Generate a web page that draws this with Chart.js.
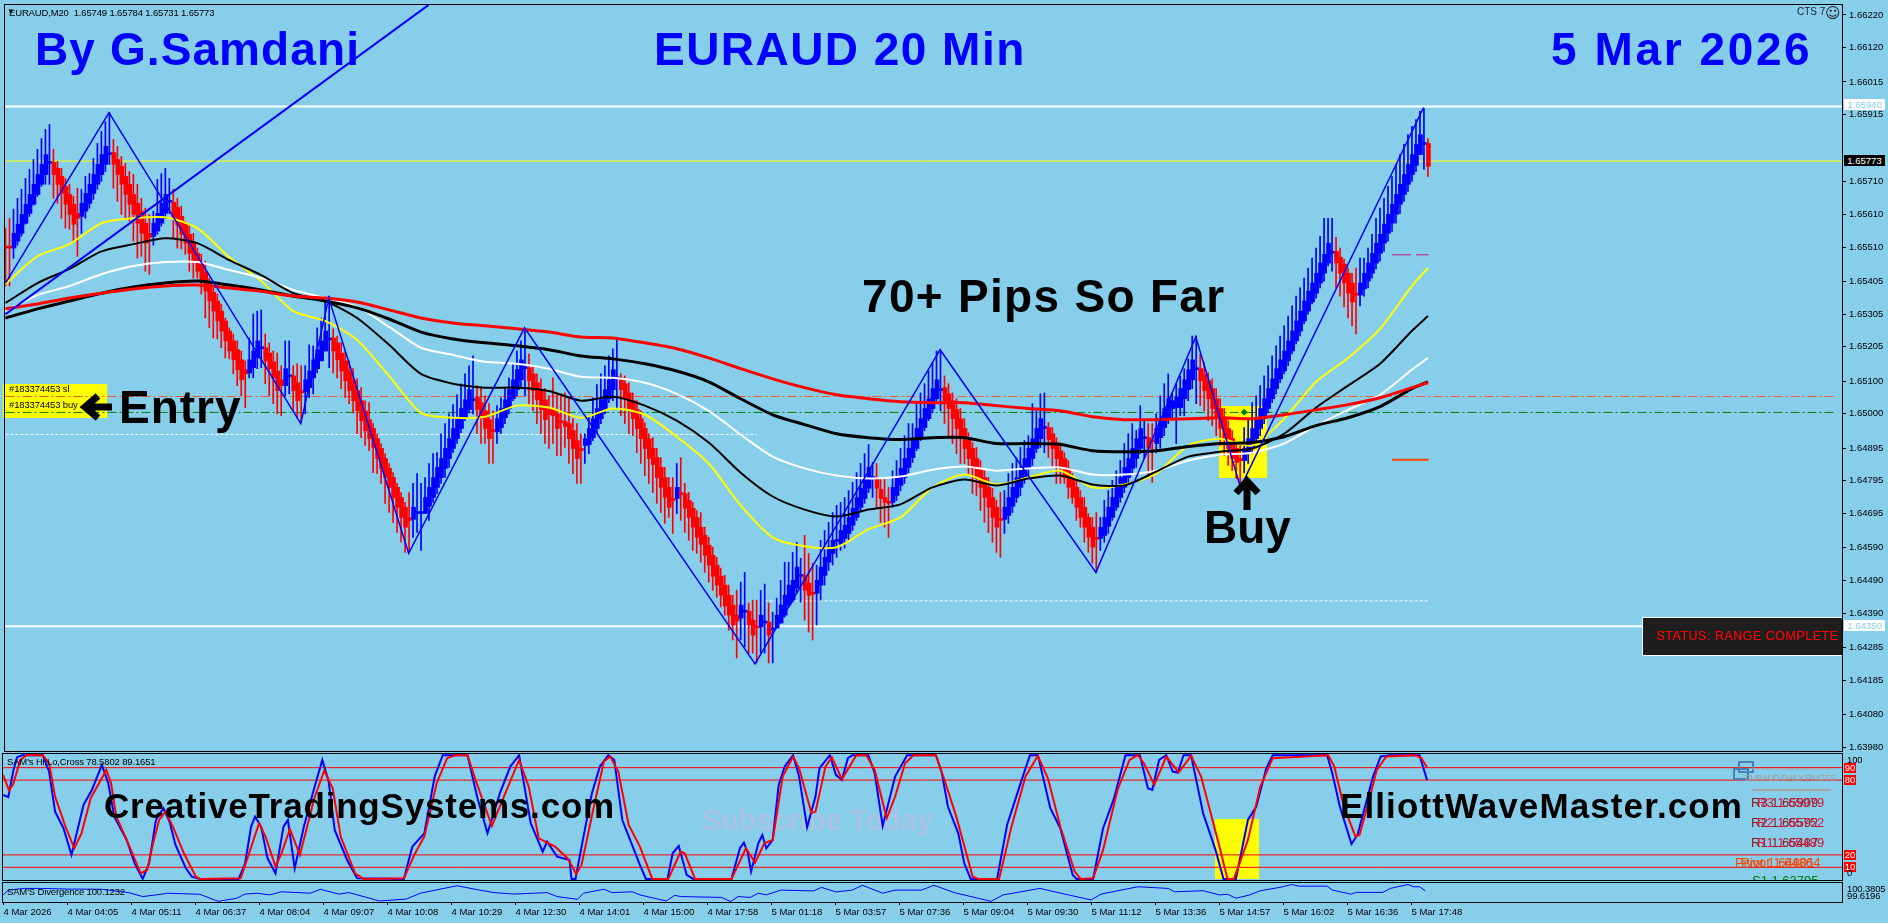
<!DOCTYPE html>
<html>
<head>
<meta charset="utf-8">
<title>EURAUD 20 Min</title>
<script src="https://cdn.jsdelivr.net/npm/chart.js@4"></script>
<style>
  html, body { margin: 0; padding: 0; width: 1888px; height: 923px; overflow: hidden; background: #87ceeb; }
  canvas { position: absolute; left: 0; }
  #priceCanvas { top: 0; }
  #crossCanvas { top: 752px; }
  #divCanvas { top: 881px; }
  .t { position: absolute; white-space: nowrap; font-family: "Liberation Sans", Arial, sans-serif; line-height: 1; }
  .small { font-size: 9.5px; letter-spacing: -0.15px; color: #000; }
  .big { font-size: 46px; font-weight: bold; color: #000; }
  .web { font-size: 35px; font-weight: bold; color: #000; }
  .blue { color: #0000ff; }
  .box { position: absolute; }
  .tag { position: absolute; left: 1844px; width: 41px; height: 11px; font: 9.5px/11px "Liberation Sans", Arial, sans-serif; text-align: center; }
  .lvl { position: absolute; left: 1844px; width: 12px; height: 10px; background: #ff0000; color: #fff; font: 9.5px/10px "Liberation Sans", Arial, sans-serif; text-align: center; }
  .piv { font-size: 13px; }
  svg { position: absolute; left: 0; top: 0; }
</style>
</head>
<body>
<!-- things that sit behind the price lines -->
<div class="box" style="left:3px;top:384px;width:104px;height:34px;background:#ffff00"></div>
<div class="box" style="left:1219px;top:406px;width:48px;height:72px;background:#ffff00"></div>
<div class="box" style="left:1215px;top:819px;width:44px;height:60px;background:#ffff00"></div>
<div class="t" style="left:701px;top:806px;font-size:29px;font-weight:bold;color:#a9c3e3">Subscribe Today</div>

<canvas id="priceCanvas" width="1888" height="756"></canvas>
<canvas id="crossCanvas" width="1888" height="129"></canvas>
<canvas id="divCanvas" width="1888" height="42"></canvas>

<!-- chart text -->
<div class="t small" style="left:7px;top:8px;font-size:8px">▼</div>
<div class="t small" style="left:9px;top:8px">EURAUD,M20 &nbsp;1.65749 1.65784 1.65731 1.65773</div>
<div class="t" style="left:1797px;top:7px;font-size:10px;color:#222">CTS 7</div>
<div class="t" style="left:1825px;top:4px;font:15px 'DejaVu Sans';color:#222">☺</div>
<div class="t big blue" style="left:35px;top:26px;letter-spacing:1.1px">By G.Samdani</div>
<div class="t big blue" style="left:654px;top:26px;letter-spacing:1.46px">EURAUD 20 Min</div>
<div class="t big blue" style="left:1551px;top:26px;letter-spacing:2.6px">5 Mar 2026</div>
<div class="t big" style="left:862px;top:273px;letter-spacing:1.3px">70+ Pips So Far</div>
<div class="t big" style="left:119px;top:384px;letter-spacing:1px">Entry</div>
<div class="t big" style="left:1204px;top:504px">Buy</div>
<div class="t small" style="left:9px;top:384px">#183374453 sl</div>
<div class="t small" style="left:9px;top:400px">#183374453 buy</div>
<svg width="1888" height="923">
  <path d="M112 407H88M98 396L85 407L98 418" fill="none" stroke="#000" stroke-width="7"/>
  <path d="M1247 510V486M1236 493L1247 481L1258 493" fill="none" stroke="#000" stroke-width="7"/>
  <rect x="1739" y="762" width="14" height="10" fill="none" stroke="#4682b4" stroke-width="2"/>
  <rect x="1734" y="769" width="14" height="10" fill="none" stroke="#4682b4" stroke-width="2"/>
  <path d="M1752 769H1831" stroke="#a8a8a8" stroke-width="1"/>
  <path d="M1752 790H1831" stroke="#a8a8a8" stroke-width="2"/>
</svg>

<div class="tag" style="top:99px;background:#fff;color:#87ceeb">1.65940</div>
<div class="tag" style="top:155px;background:#000;color:#fff">1.65773</div>
<div class="tag" style="top:620px;background:#fff;color:#87ceeb">1.64350</div>

<div class="box" style="left:1642px;top:617px;width:199px;height:37px;background:#1e1e1e;border:1px solid #fff;border-right:0"></div>
<div class="t" style="left:1656px;top:630px;font-size:12.5px;color:#ff0000;letter-spacing:.5px">STATUS: RANGE COMPLETE</div>

<div class="t web" style="left:104px;top:788px;letter-spacing:.8px">CreativeTradingSystems.com</div>
<div class="t web" style="left:1340px;top:788px;letter-spacing:1.1px">ElliottWaveMaster.com</div>
<div class="t small" style="left:7px;top:757px">SAM's Hi,Lo,Cross 78.5802 89.1651</div>
<div class="t small" style="left:7px;top:887px">SAM'S Divergence 100.1232</div>

<div class="t piv" style="left:1745px;top:774px;font-size:9px;letter-spacing:-.6px;color:#a09a90">EURAUD DAILY PIVOTS</div>
<div class="t piv" style="left:1751px;top:796px;color:#8b1a1a">R3 1.65909</div>
<div class="t piv" style="left:1757px;top:796px;color:#dc143c">R3 1.65979</div>
<div class="t piv" style="left:1751px;top:816px;color:#8b1a1a">R2 1.65592</div>
<div class="t piv" style="left:1757px;top:816px;color:#dc143c">R2 1.65752</div>
<div class="t piv" style="left:1751px;top:836px;color:#8b1a1a">R1 1.65487</div>
<div class="t piv" style="left:1757px;top:836px;color:#dc143c">R1 1.65489</div>
<div class="t piv" style="left:1735px;top:856px;color:#ff4500">Pivot 1.64801</div>
<div class="t piv" style="left:1741px;top:856px;color:#ff4500">Pivot 1.64864</div>
<div style="position:absolute;left:1700px;top:870px;width:130px;height:10px;overflow:hidden">
  <div class="t piv" style="left:52px;top:4px;color:#008000">S1 1.63795</div>
</div>

<div class="lvl" style="top:763px">90</div>
<div class="lvl" style="top:775px">80</div>
<div class="lvl" style="top:850px">20</div>
<div class="lvl" style="top:862px">10</div>
<div class="t small" style="left:1847px;top:755px">100</div>
<div class="t small" style="left:1847px;top:868px">0</div>
<div class="t small" style="left:1847px;top:884px">100.3805</div>
<div class="t small" style="left:1847px;top:891px">99.6196</div>

<script>
// All candle values are points above 1.60000, so 5773 means 1.65773
const candleOpen = [
5513,5513,5507,5528,5552,5583,5613,5641,5671,5702,
5732,5766,5769,5751,5726,5696,5671,5641,5613,5604,
5620,5644,5674,5702,5732,5763,5793,5799,5778,5757,
5726,5702,5671,5644,5620,5583,5552,5543,5559,5583,
5613,5647,5647,5632,5604,5580,5549,5522,5491,5461,
5433,5403,5372,5345,5314,5284,5253,5223,5196,5165,
5135,5125,5141,5171,5199,5202,5186,5159,5131,5104,
5086,5113,5116,5095,5071,5067,5080,5110,5138,5162,
5192,5226,5232,5217,5186,5162,5131,5101,5071,5040,
5009,4982,4955,4924,4894,4863,4833,4805,4775,4744,
4714,4683,4677,4695,4695,4695,4717,4744,4775,4805,
4833,4863,4894,4924,4955,4985,5013,5040,5052,5034,
5009,4982,4952,4945,4958,4988,5016,5046,5074,5104,
5138,5141,5122,5095,5071,5043,5013,5013,5000,4979,
4976,4970,4949,4918,4894,4903,4906,4927,4955,4985,
5016,5046,5074,5107,5110,5092,5064,5040,5013,4985,
4955,4924,4894,4866,4836,4805,4775,4741,4741,4759,
4756,4735,4711,4683,4653,4628,4598,4567,4537,4503,
4476,4445,4415,4384,4375,4393,4396,4369,4351,4348,
4360,4363,4339,4345,4360,4384,4415,4430,4467,4503,
4506,4482,4454,4451,4476,4506,4546,4573,4610,4601,
4619,4634,4659,4683,4714,4741,4772,4802,4802,4769,
4744,4732,4729,4750,4781,4805,4836,4866,4894,4927,
4958,4985,5016,5046,5071,5080,5061,5040,5013,4985,
4955,4924,4894,4863,4833,4805,4775,4744,4714,4680,
4677,4689,4717,4744,4775,4805,4833,4863,4894,4924,
4955,4958,4939,4912,4887,4863,4833,4805,4775,4744,
4714,4683,4653,4622,4619,4628,4656,4683,4714,4744,
4775,4805,4833,4863,4894,4924,4927,4921,4909,4927,
4958,4988,5016,5019,5019,5046,5074,5104,5135,5138,
5122,5101,5077,5046,5016,4985,4955,4924,4894,4863,
4857,4878,4897,4924,4955,4985,5016,5046,5077,5107,
5131,5162,5192,5223,5253,5284,5314,5342,5369,5400,
5430,5461,5491,5497,5479,5458,5430,5400,5369,5363,
5382,5406,5430,5461,5491,5522,5552,5583,5610,5641,
5671,5702,5732,5760,5793,5824,5827];
const candleClose = [
5507,5507,5552,5580,5610,5641,5671,5702,5732,5763,
5793,5772,5732,5702,5674,5641,5610,5580,5598,5644,
5674,5702,5732,5763,5793,5818,5799,5763,5732,5702,
5671,5641,5610,5583,5552,5522,5540,5583,5613,5644,
5671,5653,5598,5577,5549,5522,5491,5467,5436,5406,
5375,5345,5314,5284,5253,5223,5192,5165,5135,5104,
5122,5165,5192,5223,5205,5162,5138,5110,5071,5086,
5138,5119,5071,5040,5064,5104,5131,5165,5196,5223,
5253,5232,5192,5165,5131,5101,5071,5040,5009,4979,
4948,4924,4897,4863,4833,4805,4775,4744,4714,4683,
4653,4674,4714,4701,4701,4744,4775,4805,4836,4863,
4894,4924,4955,4985,5016,5043,5074,5046,5013,4985,
4955,4924,4945,4985,5016,5043,5074,5104,5135,5165,
5144,5101,5071,5043,5013,4982,4997,4994,4955,4973,
4961,4924,4894,4863,4887,4924,4955,4985,5016,5043,
5074,5104,5135,5113,5074,5046,5016,4985,4955,4924,
4894,4863,4845,4805,4775,4744,4714,4735,4775,4753,
4711,4683,4653,4622,4601,4567,4537,4503,4476,4445,
4412,4384,4354,4366,4415,4399,4354,4323,4345,4384,
4366,4323,4345,4384,4415,4445,4476,4491,4531,4509,
4460,4445,4448,4491,4531,4561,4592,4613,4616,4643,
4659,4683,4711,4744,4772,4802,4836,4808,4772,4741,
4729,4726,4775,4802,4833,4863,4894,4924,4955,4985,
5016,5046,5077,5104,5077,5040,5016,4985,4955,4924,
4894,4863,4833,4802,4775,4744,4714,4683,4653,4674,
4714,4744,4775,4805,4833,4863,4894,4924,4955,4985,
4961,4921,4894,4863,4833,4805,4775,4744,4714,4683,
4653,4622,4592,4616,4653,4683,4714,4744,4775,4805,
4836,4863,4894,4924,4955,4930,4894,4915,4955,4985,
5016,5046,5040,5052,5077,5104,5135,5165,5141,5101,
5071,5046,5016,4985,4955,4924,4894,4863,4851,4857,
4894,4924,4955,4985,5016,5046,5077,5107,5138,5165,
5192,5223,5253,5284,5314,5345,5375,5400,5430,5461,
5488,5522,5497,5461,5430,5400,5369,5342,5363,5400,
5430,5461,5491,5522,5549,5580,5610,5641,5671,5702,
5732,5763,5793,5824,5854,5830,5757];
const candleHigh = [
5568,5598,5626,5659,5687,5720,5748,5778,5809,5842,
5870,5885,5809,5772,5751,5720,5702,5665,5690,5687,
5726,5735,5781,5827,5864,5894,5921,5839,5818,5787,
5766,5741,5732,5702,5659,5629,5610,5620,5717,5735,
5751,5720,5687,5659,5635,5589,5574,5552,5507,5488,
5467,5415,5385,5366,5336,5293,5263,5244,5223,5192,
5162,5232,5305,5314,5318,5244,5217,5192,5186,5147,
5223,5223,5147,5153,5147,5147,5211,5208,5263,5293,
5354,5360,5260,5238,5217,5192,5162,5138,5107,5080,
5040,5034,4970,4939,4909,4878,4848,4820,4787,4759,
4729,4759,4787,4817,4787,4805,4848,4878,4881,4939,
4970,5000,5028,5058,5092,5122,5147,5177,5086,5080,
5055,5031,5009,5025,5049,5077,5110,5153,5192,5223,
5260,5183,5147,5122,5107,5077,5055,5110,5064,5061,
5064,5046,4985,4970,4939,4939,4994,5049,5089,5122,
5147,5177,5199,5229,5122,5116,5095,5064,5040,5009,
4973,4939,4927,4894,4866,4836,4805,4805,4848,4866,
4787,4759,4729,4704,4698,4653,4622,4592,4561,4528,
4506,4476,4445,4460,4485,4515,4421,4430,4430,4460,
4479,4421,4393,4436,4491,4546,4546,4576,4607,4558,
4628,4573,4543,4537,4613,4643,4668,4698,4720,4729,
4744,4765,4790,4820,4848,4878,4906,4851,4848,4802,
4802,4775,4826,4857,4894,4933,4970,4970,5031,5064,
5092,5131,5156,5192,5189,5116,5092,5064,5046,5016,
4985,4942,4912,4897,4857,4826,4805,4772,4735,4759,
4765,4817,4848,4866,4897,4918,4933,5031,5009,5061,
5064,4973,4958,4927,4912,4881,4857,4817,4796,4765,
4744,4695,4683,4698,4683,4735,4765,4796,4826,4857,
4909,4939,4970,4949,5025,4979,4970,4970,5000,5055,
5092,5122,5064,5092,5116,5138,5168,5238,5238,5183,
5156,5125,5107,5077,5046,5016,4979,4949,4912,4903,
4958,4985,5034,5055,5086,5116,5147,5177,5208,5238,
5269,5299,5330,5360,5385,5415,5446,5476,5507,5543,
5598,5598,5598,5540,5507,5473,5446,5430,5446,5476,
5476,5507,5549,5598,5629,5659,5696,5726,5763,5793,
5824,5854,5879,5900,5925,5934,5842];
const candleLow = [
5391,5391,5476,5516,5543,5580,5604,5638,5665,5696,
5702,5702,5659,5644,5598,5568,5565,5528,5482,5552,
5598,5629,5656,5687,5711,5741,5763,5690,5650,5610,
5595,5589,5528,5476,5482,5436,5427,5516,5549,5574,
5598,5613,5537,5507,5504,5488,5436,5415,5415,5366,
5293,5263,5232,5229,5202,5171,5168,5122,5086,5055,
5019,5110,5110,5138,5141,5092,5055,5031,5000,4994,
5055,5061,5009,4988,4973,5000,5049,5061,5125,5162,
5192,5141,5125,5110,5077,5049,5031,5003,4939,4927,
4903,4887,4820,4817,4787,4726,4698,4668,4637,4607,
4576,4576,4622,4637,4582,4695,4674,4729,4756,4787,
4805,4836,4881,4909,4942,4979,5003,5000,4939,4909,
4909,4848,4848,4909,4939,4970,5000,5040,5055,5077,
5055,5031,5009,4970,4939,4909,4894,4909,4872,4872,
4897,4848,4817,4787,4787,4848,4878,4918,4939,4970,
5000,5034,5040,5019,4994,4970,4939,4933,4881,4848,
4811,4787,4759,4726,4698,4665,4683,4634,4695,4674,
4637,4613,4582,4573,4546,4515,4485,4460,4439,4409,
4384,4338,4308,4253,4308,4287,4268,4268,4238,4268,
4268,4238,4238,4345,4360,4378,4409,4424,4454,4424,
4369,4332,4308,4354,4430,4476,4521,4537,4561,4582,
4589,4613,4643,4674,4704,4726,4759,4744,4714,4668,
4653,4622,4714,4735,4765,4787,4820,4851,4887,4918,
4948,4979,5003,5040,5009,4970,4933,4909,4878,4848,
4848,4817,4756,4750,4704,4668,4637,4607,4576,4561,
4634,4665,4698,4729,4750,4787,4811,4842,4881,4897,
4881,4866,4836,4787,4787,4787,4741,4726,4674,4653,
4607,4576,4543,4515,4582,4607,4634,4674,4704,4729,
4759,4787,4817,4836,4878,4863,4805,4790,4881,4894,
4933,4970,4988,4909,4994,4994,5040,5077,5031,5025,
5009,4979,4964,4933,4903,4872,4842,4826,4802,4787,
4820,4848,4878,4909,4933,4970,5003,5034,5061,5095,
5122,5147,5183,5214,5238,5275,5305,5336,5354,5385,
5406,5452,5436,5385,5360,5327,5293,5269,5244,5330,
5360,5385,5415,5443,5467,5497,5528,5558,5583,5613,
5650,5680,5711,5741,5793,5748,5726];

// moving averages
const maBar = [0,8,16,24,32,40,48,56,64,72,80,88,96,104,112,120,128,136,144,152,160,168,176,184,192,200,208,216,224,232,240,248,256,264,272,280,288,296,304,312,320,328,336,344,352,356];
const maYellow = [5397,5482,5519,5583,5598,5601,5568,5479,5406,5314,5284,5226,5116,5003,4988,4991,5025,5019,4988,5016,4997,4930,4848,4720,4622,4595,4592,4647,4683,4775,4814,4784,4805,4826,4775,4784,4817,4903,4924,4903,4985,5098,5171,5260,5391,5446];
const maBlackThin = [5339,5400,5443,5497,5519,5537,5522,5470,5424,5369,5345,5293,5211,5122,5092,5080,5080,5070,5040,5052,5025,4979,4912,4820,4747,4707,4686,4707,4723,4775,4799,4781,4802,4811,4784,4781,4823,4869,4884,4894,4939,5019,5086,5153,5254,5299];
const maWhite = [5314,5363,5391,5427,5452,5464,5464,5440,5415,5379,5354,5327,5266,5202,5180,5159,5153,5138,5113,5110,5095,5061,5009,4936,4869,4833,4811,4802,4808,4829,4839,4826,4833,4836,4814,4814,4826,4857,4875,4881,4909,4964,5012,5058,5135,5171];
const maBlackThick = [5293,5321,5345,5369,5388,5400,5406,5394,5379,5360,5345,5324,5290,5250,5229,5217,5208,5196,5177,5168,5153,5131,5098,5046,4997,4967,4939,4927,4921,4927,4927,4909,4909,4906,4887,4884,4887,4900,4909,4912,4930,4964,4988,5022,5077,5098];
const maRed = [5321,5336,5354,5369,5382,5391,5394,5385,5375,5360,5354,5342,5318,5293,5278,5269,5260,5250,5235,5232,5217,5199,5171,5138,5107,5080,5058,5046,5037,5034,5034,5025,5016,5009,4991,4982,4982,4985,4988,4985,4997,5012,5028,5049,5080,5095];

// zigzag pivots and the long trend line
const zigzagBar = [0,25.9,73.9,80.9,100.9,129.9,187.6,233.9,272.9,297.9,309.1,354.9];
const zigzagPts = [5400,5921,4970,5354,4573,5263,4235,5196,4515,5235,4775,5937];
const trendBar = [0,105.9];
const trendPts = [5305,6251];

// horizontal levels
const whiteLevels = [5940,4350];
const lastPricePts = 5773;
const stopPts = 5053;
const buyPts = 5004.2;
const dottedPts = [4937,4427.6];
const dottedFrom = [0,190];
const dottedTo = [188,356];
const targetPts = 5486.3;
const floorPts = 4859.3;
const shortFrom = 347;
const shortTo = 356.2;
const tradeMarkBar = 310;
const tradeMarkPts = 5005;

// SAM's Hi,Lo,Cross
const fastBar = [-0.1,1.2,2.5,3.4,4.7,9.8,11.4,12.9,15,17,20,22.1,24.6,26.2,27.7,30.8,32.8,34.8,36.4,38.1,40,41.5,43,45.6,47.1,49.1,58.8,60.4,61.9,62.9,64.4,66,68,70,71.1,72.8,75.1,77.2,79.7,81.3,82.8,85.9,88.4,100.1,102.2,105.2,107.8,109.8,116,118.5,121,124.1,126.7,128.9,131.8,134.8,135.9,138.4,141.5,142,143,145,147.1,149.1,151.2,152.7,154.7,159.1,160.6,166,167.3,168.8,170.8,172.4,182,184.1,185.1,186.1,186.9,188.7,189.7,190.7,192.3,193.8,195.3,197.4,198.9,200.9,203,204,206.6,208.1,209.6,211.1,212.2,216.2,217.8,219.8,222.9,225.9,233.1,234.6,236.1,238.7,240.2,241.8,248.4,250.9,254,256.6,258.6,261.7,264.2,267.3,268.3,272.4,274.9,277.5,280.5,284.1,286.1,287.2,288.9,290.7,292.3,293.6,295,296.9,299.9,303,305,308.1,311.1,313.2,315.7,317.3,330.9,332.2,334.1,337,338.5,342.4,344.3,346.7,354,355.9];
const fastVal = [68.1,66.3,88.2,98.4,100,100,86.9,54.7,41.4,20,60.1,72.1,92.2,77.5,50.7,32,13.2,0.7,13.2,48,57.4,46.7,28,9.2,2.5,0.7,0.7,13.2,42.7,50.7,42.7,17.3,5.2,42.7,48,9.2,42.7,68.1,96.2,78.8,40,15.9,1.2,0.7,26.6,37.3,82.9,100,100,65.5,37.3,69.5,90.9,100,45.4,22.6,30.6,18.6,15.9,0.7,0.7,34.7,69.5,90.9,100,96.2,48,11.9,0.7,0.7,21.3,27.2,3.9,0.7,0.7,25.3,29.8,21.3,6.6,29.3,36,25.3,32,76.2,90.9,100,82.9,42.2,66.8,89.5,100,84.2,80.2,97.6,100,100,85.5,43.2,82.9,100,100,85.5,58.8,37.3,13.2,0.7,0.7,44,74.8,100,100,57.4,41.4,3.9,0.7,0.7,41.4,64.1,100,100,73.5,72.1,96.2,100,86.9,86.1,100,100,53.4,24,0.7,0.7,48,58.8,89.5,100,100,85.5,58.7,28.7,36,83,99,100,100,80];
const slowBar = [-0.1,1.4,2.5,4.2,5.8,9.8,11.4,12.9,15.5,17.7,19.5,21.8,25.7,26.9,28.2,30.8,34.3,35.9,37.4,38.9,40.5,42.5,45.1,48.1,49.1,59.3,61.4,63.9,65.5,68,69.5,71.6,74.1,75.7,77.7,80.2,82.3,84.3,87.9,90,100.1,102.7,105.2,108.3,110.9,112.9,116,118,122.1,125.1,128.9,131.3,133.8,137.9,141,143.2,144.5,147.6,150.1,151.7,153.7,156.3,159.1,162.2,166.2,169.3,170.3,172.9,182,185.6,187.9,190.2,192.3,194.8,197.4,198.9,202,203,205.5,207.1,209.6,213.2,215.7,217.8,220.8,222.9,225.4,227.5,233.1,235.1,238.2,242.3,243.8,248.9,252,255.5,258.6,261.1,264.2,267.8,269.3,272.4,274.9,278.5,281.5,283.6,285.1,287.7,290.7,293.8,296.9,299.4,304,306,307.6,311.1,314.2,317.3,331.2,332.7,335.1,338,339,341.4,343.3,345.7,353,354.5,355.9];
const slowVal = [84.2,71.6,77.5,96.2,100,100,93.6,66.8,42.7,25.3,37.3,65.5,88.2,77.5,50.7,32,5.2,7.9,29.3,48,54.7,41.4,21.3,2.5,0.7,1.2,21.3,45.4,34.7,10.6,21.3,40.6,20,40,65.5,87.7,73.5,34.7,5.2,0.7,1.2,20,34.7,77.5,97.6,100,100,80.2,43.2,66.8,96.2,74.8,33.3,26.6,17.3,4.7,11.9,58.8,94.9,98.9,86.9,44,26.6,0.7,0.7,22.6,21.3,0.7,0.7,25.3,13.8,29.3,32,82.9,98.9,89.5,53.4,54.7,90.9,98.4,80.7,100,100,88.2,49.4,66.8,93.6,100,100,81.5,50.7,2.5,0.7,0.7,42.7,82.9,99.5,81.5,42.7,6.6,0.7,1.2,24,72.1,96.2,100,93.6,76.2,98.9,86.3,99.5,82.9,26.6,0.7,0.7,32,74.8,97.6,100,90.8,58.7,34.6,36,64,88,99,100,97.5,90];
const crossLevels = [90,80,20,10];

// SAM's Divergence
const divBar = [-0.1,1.2,5.3,9.3,16,24.6,31.3,34.8,39.4,41,49.1,53.7,58.3,60.4,63.4,66.5,69.5,76.7,79.2,83.8,86.4,94,100.7,104.2,113.4,119,122.6,127.7,135.9,138.4,143.5,145,150.1,152.2,157.3,159.1,165.7,167.8,169.3,179.5,181.8,183.6,186.7,188.7,190.7,194.3,202.5,204.5,208.1,212.2,214.7,219.8,222.9,229.5,232.6,237.7,246.9,249.9,259.1,266.2,271.9,274.4,283.6,291.2,292.8,299.9,304,306,308.1,311.6,314.2,319.1,322,323.9,330.9,332.2,337,338,344.8,346.7,351.1,352.5,354,355.4];
const divVal = [99.86,100.09,100.17,100.17,100.14,100.13,99.97,99.78,99.89,99.94,99.89,99.55,99.70,99.90,99.94,99.86,100.01,99.94,100.13,99.90,99.97,99.57,99.66,99.94,100.30,100.09,99.97,99.90,99.97,99.78,99.65,99.94,100.13,99.97,100.01,99.86,99.57,99.84,99.78,99.74,99.54,99.78,99.74,99.94,99.86,100.09,100.05,100.22,100.00,100.09,100.32,99.94,100.09,100.09,100.32,99.97,99.55,99.86,100.17,99.86,99.62,99.90,100.25,100.17,100.01,100.06,99.86,99.89,99.70,99.86,100.06,100.22,100.36,100.28,100.28,100.09,99.89,99.98,99.98,100.17,100.36,100.25,100.25,100.06];

// axis labels
const priceTicks = [1.6622,1.6612,1.66015,1.65915,1.6571,1.6561,1.6551,1.65405,1.65305,1.65205,1.651,1.65,1.64895,1.64795,1.64695,1.6459,1.6449,1.6439,1.64285,1.64185,1.6408,1.6398];
const timeTicks = [0,16,32,48,64,80,96,112,128,144,160,176,192,208,224,240,256,272,288,304,320,336,352];
const timeLabels = ['4 Mar 2026','4 Mar 04:05','4 Mar 05:11','4 Mar 06:37','4 Mar 08:04','4 Mar 09:07','4 Mar 10:08','4 Mar 10:29','4 Mar 12:30','4 Mar 14:01','4 Mar 15:00','4 Mar 17:58','5 Mar 01:18','5 Mar 03:57','5 Mar 07:36','5 Mar 09:04','5 Mar 09:30','5 Mar 11:12','5 Mar 13:36','5 Mar 14:57','5 Mar 16:02','5 Mar 16:36','5 Mar 17:48'];

const UP = '#0000ff', DOWN = '#ff0000';
const X_MIN = -0.125, X_MAX = 459.625; // 4 px per bar
const AXIS_FONT = { family: '"Liberation Sans", Arial, sans-serif', size: 9.5 };

const toPrice = p => 1.6 + p / 100000;
const series = (xs, ys, conv) => xs.map((x, i) => ({ x, y: conv ? conv(ys[i]) : ys[i] }));
const candleColors = candleOpen.map((o, i) => candleClose[i] >= o ? UP : DOWN);

function lineSet(data, color, width, order, extra) {
  return Object.assign({ type: 'line', data, borderColor: color, borderWidth: width, pointRadius: 0, tension: 0, order }, extra);
}
function flatLine(from, to, pts, color, width, order, dash) {
  return lineSet([{ x: from, y: toPrice(pts) }, { x: to, y: toPrice(pts) }], color, width, order, { borderDash: dash || [] });
}

// black box around each panel
const panelFrame = {
  id: 'panelFrame',
  afterDraw(chart) {
    const a = chart.chartArea, c = chart.ctx;
    c.save();
    c.strokeStyle = '#000';
    c.lineWidth = 1;
    c.strokeRect(a.left - 0.5, a.top - 0.5, a.right - a.left + 1, a.bottom - a.top + 1);
    c.restore();
  },
};

function baseOptions(padding, yMin, yMax, showTime) {
  const x = {
    type: 'linear', min: X_MIN, max: X_MAX, offset: false, display: showTime,
    border: { display: false },
    grid: { drawOnChartArea: false, drawTicks: true, tickLength: 3, tickColor: '#000' },
    ticks: {
      autoSkip: false, maxRotation: 0, align: 'start', padding: 2, color: '#000', font: AXIS_FONT,
      callback: v => timeLabels[timeTicks.indexOf(v)],
    },
    afterBuildTicks: s => { s.ticks = timeTicks.map(value => ({ value })); },
  };
  if (showTime) x.afterFit = s => { s.height = 21; s.paddingLeft = 0; s.paddingRight = 0; };
  return {
    responsive: false,
    animation: false,
    events: [],
    devicePixelRatio: 1,
    layout: { padding },
    plugins: { legend: { display: false }, tooltip: { enabled: false } },
    scales: {
      x,
      y: {
        type: 'linear', position: 'right', min: yMin, max: yMax,
        border: { display: false },
        grid: { display: false },
        ticks: { display: false },
        afterFit: s => { s.width = 46; s.paddingTop = 0; s.paddingBottom = 0; },
      },
    },
  };
}

// price panel; the canvas runs a little past the panel because the layout keeps some room under it
const priceOptions = baseOptions({ left: 3, top: 3, right: 0, bottom: 1 }, 1.639685, 1.662505, false);
priceOptions.scales.y.grid = { display: true, drawOnChartArea: false, drawTicks: true, tickLength: 4, tickColor: '#000' };
priceOptions.scales.y.ticks = {
  display: true, autoSkip: false, padding: 3, color: '#000',
  font: Object.assign({ lineHeight: 0.2 }, AXIS_FONT),
  callback: v => v.toFixed(5),
};
priceOptions.scales.y.afterBuildTicks = s => { s.ticks = priceTicks.map(value => ({ value })); };

new Chart(document.getElementById('priceCanvas'), {
  type: 'bar',
  data: {
    datasets: [
      flatLine(-1, 460, whiteLevels[0], '#ffffff', 2, 9),
      flatLine(-1, 460, whiteLevels[1], '#ffffff', 2, 9),
      flatLine(-1, 460, lastPricePts, '#ffff00', 1, 9),
      flatLine(0, 458, stopPts, '#f05a28', 1, 9, [9, 3, 2, 3]),
      flatLine(0, 458, buyPts, '#008000', 1, 9, [9, 3, 2, 3]),
      flatLine(dottedFrom[0], dottedTo[0], dottedPts[0], '#ffffff', 1, 9, [3, 2]),
      flatLine(dottedFrom[1], dottedTo[1], dottedPts[1], '#ffffff', 1, 9, [3, 2]),
      flatLine(shortFrom, shortTo, targetPts, '#c71585', 1, 9, [19, 5]),
      flatLine(shortFrom, shortTo, floorPts, '#ff4500', 2, 9),
      {
        type: 'bar', grouped: false, barThickness: 1, order: 8,
        data: candleLow.map((l, i) => ({ x: i, y: [toPrice(l), toPrice(candleHigh[i])] })),
        backgroundColor: candleColors,
      },
      {
        // shifted an eighth of a bar so the 4 px body lands on whole pixels
        type: 'bar', grouped: false, barThickness: 4, order: 7,
        data: candleOpen.map((o, i) => ({ x: i + 0.125, y: [toPrice(o), toPrice(candleClose[i])] })),
        backgroundColor: candleColors,
      },
      lineSet(series(maBar, maYellow, toPrice), '#ffff00', 2, 6, { tension: 0.25 }),
      lineSet(series(maBar, maWhite, toPrice), '#ffffff', 2, 5, { tension: 0.25 }),
      lineSet(series(maBar, maBlackThin, toPrice), '#000000', 2, 4, { tension: 0.25 }),
      lineSet(series(maBar, maBlackThick, toPrice), '#000000', 3, 3, { tension: 0.25 }),
      lineSet(series(maBar, maRed, toPrice), '#ff0000', 3, 2, { tension: 0.25 }),
      lineSet(series(zigzagBar, zigzagPts, toPrice), '#0000ff', 1.5, 1),
      lineSet(series(trendBar, trendPts, toPrice), '#0000ff', 2, 1),
      lineSet([{ x: tradeMarkBar, y: toPrice(tradeMarkPts) }], '#008000', 1, 0, { pointRadius: 3, pointStyle: 'rectRot', pointBackgroundColor: '#008000' }),
    ],
  },
  options: priceOptions,
  plugins: [panelFrame],
});

// oscillator panel
new Chart(document.getElementById('crossCanvas'), {
  type: 'line',
  data: {
    datasets: [
      ...crossLevels.map(v => lineSet([{ x: -1, y: v }, { x: 460, y: v }], '#ff0000', 1, 3)),
      lineSet(series(fastBar, fastVal), '#0000ff', 2, 2),
      lineSet(series(slowBar, slowVal), '#ff0000', 2, 1),
    ],
  },
  options: baseOptions({ left: 3, top: 2, right: 0, bottom: 1 }, -0.16, 100.96, false),
  plugins: [panelFrame],
});

// divergence panel, carries the time axis
new Chart(document.getElementById('divCanvas'), {
  type: 'line',
  data: { datasets: [lineSet(series(divBar, divVal), '#0000ff', 1, 1)] },
  options: baseOptions({ left: 3, top: 2, right: 0, bottom: 0 }, 99.52, 100.43, true),
  plugins: [panelFrame],
});
</script>
</body>
</html>
